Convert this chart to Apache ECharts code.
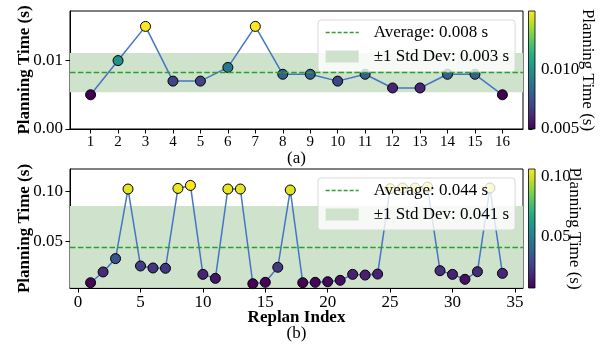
<!DOCTYPE html>
<html>
<head>
<meta charset="utf-8">
<script src="https://cdn.jsdelivr.net/npm/echarts@6/dist/echarts.min.js"></script>
<style>html,body{margin:0;padding:0;background:#fff;}#c{width:611px;height:344px;}</style>
</head>
<body>
<div id="c"></div>
<script>
// ---- data ----
const topIndex = [1,2,3,4,5,6,7,8,9,10,11,12,13,14,15,16];
const topTimes = [0.005,0.010,0.015,0.007,0.007,0.009,0.015,0.008,0.008,0.007,0.008,0.006,0.006,0.008,0.008,0.005];
const botIndex = [1,2,3,4,5,6,7,8,9,10,11,12,13,14,15,16,17,18,19,20,21,22,23,24,25,26,27,28,29,30,31,32,33,34];
const botTimes = [0.0083,0.0191,0.0325,0.1024,0.0251,0.0231,0.0228,0.1030,0.1060,0.0167,0.0127,0.1024,0.1024,0.0073,0.0087,0.0238,0.1014,0.0083,0.0087,0.0093,0.0107,0.0167,0.0160,0.0170,0.1027,0.1034,0.1034,0.1044,0.0204,0.0167,0.0117,0.0194,0.1034,0.0177];
const topXTicks = [1,2,3,4,5,6,7,8,9,10,11,12,13,14,15,16];
const botXTicks = [0,5,10,15,20,25,30,35];
const topYTicks = [0, 0.01];
const botYTicks = [0.05, 0.10];
const topCbTicks = [0.005, 0.010];
const botCbTicks = [0.05, 0.10];

const viridis = ['#440154','#482475','#414487','#355f8d','#2a788e','#21918c','#22a884','#44bf70','#7ad151','#bddf26','#fde725'];

function mean(a){return a.reduce((s,v)=>s+v,0)/a.length;}
function std(a){const m=mean(a);return Math.sqrt(a.reduce((s,v)=>s+(v-m)*(v-m),0)/a.length);}

const FONT = 'Liberation Serif';
const LINE = '#4575c4';
const GREEN = '#2ca02c';
const BAND = '#cfe2cc';

const panels = [
  {idx: topIndex, vals: topTimes, top: 11, height: 118, xmin: 0.25, xmax: 16.75, ymin: 0, ymax: 0.01725,
   xt: topXTicks, yt: topYTicks, ydec: 2, cbt: topCbTicks, cbdec: 3, xFont: 15, cbGap: 44,
   cbMin: 0.005, cbMax: 0.015, legTop: 20,
   xname: '(a)'},
  {idx: botIndex, vals: botTimes, top: 169, height: 119, xmin: -0.65, xmax: 35.65, ymin: 0.003, ymax: 0.1225,
   xt: botXTicks, yt: botYTicks, ydec: 2, cbt: botCbTicks, cbdec: 2, xFont: 17, cbGap: 31,
   cbMin: Math.min(...botTimes), cbMax: Math.max(...botTimes), legTop: 178,
   xname: '{b|Replan Index}\n{n|(b)}'}
];

const grid = [], xAxis = [], yAxis = [], series = [], legend = [], visualMap = [];
const gradient = {type:'linear', x:0, y:1, x2:0, y2:0,
  colorStops: viridis.map((c,i)=>({offset:i/(viridis.length-1), color:c}))};

panels.forEach((p, k) => {
  const m = mean(p.vals), s = std(p.vals);
  const avgName = 'Average: ' + m.toFixed(3) + ' s';
  const bandName = '\u00b11 Std Dev: ' + s.toFixed(3) + ' s';
  grid.push({left: 70, width: 453, top: p.top, height: p.height, show: true, borderColor: '#000', borderWidth: 1, backgroundColor: 'transparent'});
  xAxis.push({type: 'value', gridIndex: k, min: p.xmin, max: p.xmax,
    axisLine: {show: true, onZero: false, lineStyle: {color: '#000', width: 1}},
    axisTick: {show: true, inside: false, length: 4.5, customValues: p.xt, lineStyle: {color: '#000'}},
    axisLabel: {customValues: p.xt, fontFamily: FONT, fontSize: p.xFont, color: '#000', margin: 6},
    splitLine: {show: false},
    name: p.xname, nameLocation: 'middle', nameGap: k === 0 ? 21 : 22, nameMoveOverlap: false,
    nameTextStyle: {fontFamily: FONT, fontSize: 17, color: '#000',
      rich: {b: {fontFamily: FONT, fontSize: 17, fontWeight: 'bold', color: '#000', lineHeight: 16},
             n: {fontFamily: FONT, fontSize: 17, color: '#000', lineHeight: 16}}}
  });
  yAxis.push({type: 'value', gridIndex: k, min: p.ymin, max: p.ymax,
    axisLine: {show: true, onZero: false, lineStyle: {color: '#000', width: 1}},
    axisTick: {show: true, inside: false, length: 4.5, customValues: p.yt, lineStyle: {color: '#000'}},
    axisLabel: {customValues: p.yt, formatter: v => Number(v).toFixed(p.ydec), fontFamily: FONT, fontSize: 17, color: '#000', margin: 7},
    splitLine: {show: false},
    name: 'Planning Time (s)', nameLocation: 'middle', nameGap: 37, nameMoveOverlap: false,
    nameTextStyle: {fontFamily: FONT, fontSize: 17, fontWeight: 'bold', color: '#000'}
  });
  const base = series.length;
  series.push({type: 'line', name: bandName, xAxisIndex: k, yAxisIndex: k, data: [], z: 1,
    itemStyle: {color: BAND}, lineStyle: {color: BAND},
    markArea: {silent: true, precision: 8, itemStyle: {color: BAND, opacity: 1}, label: {show: false},
      data: [[{yAxis: m - s}, {yAxis: m + s}]]}});
  series.push({type: 'line', name: avgName, xAxisIndex: k, yAxisIndex: k, data: [], z: 1.5, symbol: 'none',
    itemStyle: {color: GREEN}, lineStyle: {color: GREEN, type: [5.5, 2.4], width: 1.3},
    markLine: {silent: true, precision: 8, symbol: 'none', label: {show: false},
      lineStyle: {color: GREEN, type: [5.5, 2.4], width: 1.3}, data: [{yAxis: m}]}});
  series.push({type: 'line', xAxisIndex: k, yAxisIndex: k, z: 2, symbol: 'none',
    data: p.idx.map((x, i) => [x, p.vals[i]]), lineStyle: {color: LINE, width: 1.5}, itemStyle: {color: LINE}});
  series.push({type: 'scatter', xAxisIndex: k, yAxisIndex: k, z: 3, symbol: 'circle', symbolSize: 10,
    data: p.idx.map((x, i) => [x, p.vals[i]]), itemStyle: {borderColor: '#000', borderWidth: 1, opacity: 1}});
  visualMap.push({type: 'continuous', show: false, seriesIndex: base + 3, dimension: 1,
    min: p.cbMin, max: p.cbMax, inRange: {color: viridis}});
  legend.push({orient: 'vertical', left: 318, top: p.legTop,
    data: [{name: avgName, itemStyle: {color: 'rgba(0,0,0,0)', borderWidth: 0, opacity: 0},
            lineStyle: {color: GREEN, type: [4, 2], width: 1.3, opacity: 1}},
           {name: bandName, icon: 'rect', itemStyle: {color: BAND}}],
    itemWidth: 33, itemHeight: 12, itemGap: 7, padding: [4, 6, 7, 7],
    backgroundColor: 'rgba(255,255,255,0.8)', borderColor: '#d9d9d9', borderWidth: 1, borderRadius: 3,
    selectedMode: false,
    textStyle: {fontFamily: FONT, fontSize: 17, color: '#000', lineHeight: 17, padding: [0, 0, 0, 10]}});
});

// colorbars
panels.forEach((p, k) => {
  const gi = 2 + k;
  grid.push({left: 528.5, width: 6.5, top: p.top, height: p.height});
  xAxis.push({type: 'value', gridIndex: gi, min: 0, max: 1, show: false});
  yAxis.push({type: 'value', gridIndex: gi, position: 'right', min: p.cbMin, max: p.cbMax,
    axisLine: {show: false},
    axisTick: {show: true, inside: false, length: 4, customValues: p.cbt, lineStyle: {color: '#000'}},
    axisLabel: {customValues: p.cbt, formatter: v => Number(v).toFixed(p.cbdec), fontFamily: FONT, fontSize: 17, color: '#000', margin: 6},
    splitLine: {show: false},
    name: 'Planning Time (s)', nameLocation: 'middle', nameRotate: -90, nameGap: p.cbGap, nameMoveOverlap: false,
    nameTextStyle: {fontFamily: FONT, fontSize: 17, color: '#000'}});
  series.push({type: 'custom', xAxisIndex: gi, yAxisIndex: gi, data: [[0, p.cbMin, p.cbMax]],
    renderItem: function (params, api) {
      const lo = api.coord([0, api.value(1)]);
      const hi = api.coord([1, api.value(2)]);
      return {type: 'rect', shape: {x: lo[0], y: hi[1], width: hi[0] - lo[0], height: lo[1] - hi[1]},
        style: {fill: gradient, stroke: '#000', lineWidth: 0.8}};
    }});
});

const chart = echarts.init(document.getElementById('c'), null, {renderer: 'canvas'});
chart.setOption({animation: false, backgroundColor: '#fff', grid, xAxis, yAxis, series, legend, visualMap});
</script>
</body>
</html>
